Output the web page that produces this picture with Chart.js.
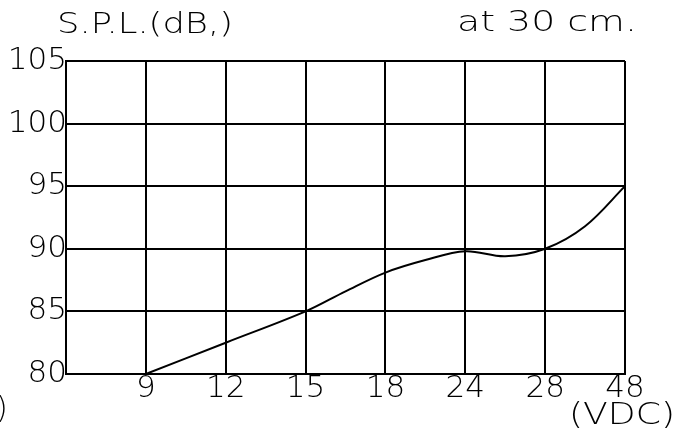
<!DOCTYPE html>
<html>
<head>
<meta charset="utf-8">
<script src="https://cdn.jsdelivr.net/npm/chart.js@4/dist/chart.umd.min.js"></script>
<style>
  html, body { margin: 0; padding: 0; background: #fff; }
  #wrap { width: 693px; height: 433px; position: relative; }
</style>
</head>
<body>
<div id="wrap"><canvas id="splChart"></canvas></div>
<script>
// voltage ticks, evenly spaced (first slot is the empty left edge)
const voltLabels = ['', '9', '12', '15', '18', '24', '28', '48'];
// curve: x = slot position, y = dB
const curveX = [1, 2, 3, 3.5, 4, 4.5, 5, 5.5, 6, 6.5, 7];
const curveY = [80, 82.5, 85, 86.6, 88.1, 89.1, 89.8, 89.4, 90, 91.8, 95];
const dbTicks = [80, 85, 90, 95, 100, 105];

const tickFont = { family: 'DejaVu Sans', size: 31, weight: 200 };

// plotter lettering is wide, so stretch the text to the width seen in the picture
function wideText(ctx, text, x, y, width) {
    const w = ctx.measureText(text).width;
    ctx.save();
    ctx.translate(x, y);
    ctx.scale(width / w, 1);
    ctx.fillText(text, 0, 0);
    ctx.restore();
}

const textPlugin = {
    id: 'extraText',
    afterDraw(chart) {
        const ctx = chart.ctx;
        ctx.save();
        ctx.fillStyle = '#000';
        ctx.textBaseline = 'alphabetic';
        ctx.textAlign = 'left';
        ctx.font = '200 28px "DejaVu Sans"';
        wideText(ctx, 'S.P.L.(dB,)', 57, 33, 176);
        wideText(ctx, 'at 30 cm.', 457, 31, 180);
        ctx.font = '200 30px "DejaVu Sans"';
        wideText(ctx, '(VDC)', 569, 424, 106);
        ctx.fillText(')', -4, 418);
        ctx.restore();
    }
};

const data = {
    datasets: [{
        label: 'S.P.L.',
        data: curveX.map((x, i) => ({ x: x, y: curveY[i] })),
        borderColor: '#000',
        borderWidth: 2,
        pointRadius: 0,
        tension: 0.35,
        fill: false
    }]
};

const config = {
    type: 'line',
    data: data,
    options: {
        responsive: true,
        maintainAspectRatio: false,
        animation: false,
        layout: { padding: { top: 61, right: 68, left: 0, bottom: 0 } },
        plugins: {
            legend: { display: false },
            tooltip: { enabled: false }
        },
        scales: {
            x: {
                type: 'linear',
                min: 0,
                max: 7,
                afterFit: s => { s.height = 59; },
                afterBuildTicks: s => { s.ticks = voltLabels.map((l, i) => ({ value: i })); },
                ticks: {
                    autoSkip: false,
                    maxRotation: 0,
                    padding: -4,
                    color: '#000',
                    font: tickFont,
                    callback: v => voltLabels[v]
                },
                grid: { color: '#000', lineWidth: 2, drawTicks: false },
                border: { color: '#000', width: 2 }
            },
            y: {
                min: 80,
                max: 105,
                afterFit: s => { s.width = 66; },
                afterBuildTicks: s => { s.ticks = dbTicks.map(v => ({ value: v })); },
                ticks: {
                    padding: -1,
                    color: '#000',
                    font: tickFont
                },
                grid: { color: '#000', lineWidth: 2, drawTicks: false },
                border: { color: '#000', width: 2 }
            }
        }
    },
    plugins: [textPlugin]
};

window.onload = function() {
    const ctx = document.getElementById('splChart').getContext('2d');
    new Chart(ctx, config);
};
</script>
</body>
</html>
